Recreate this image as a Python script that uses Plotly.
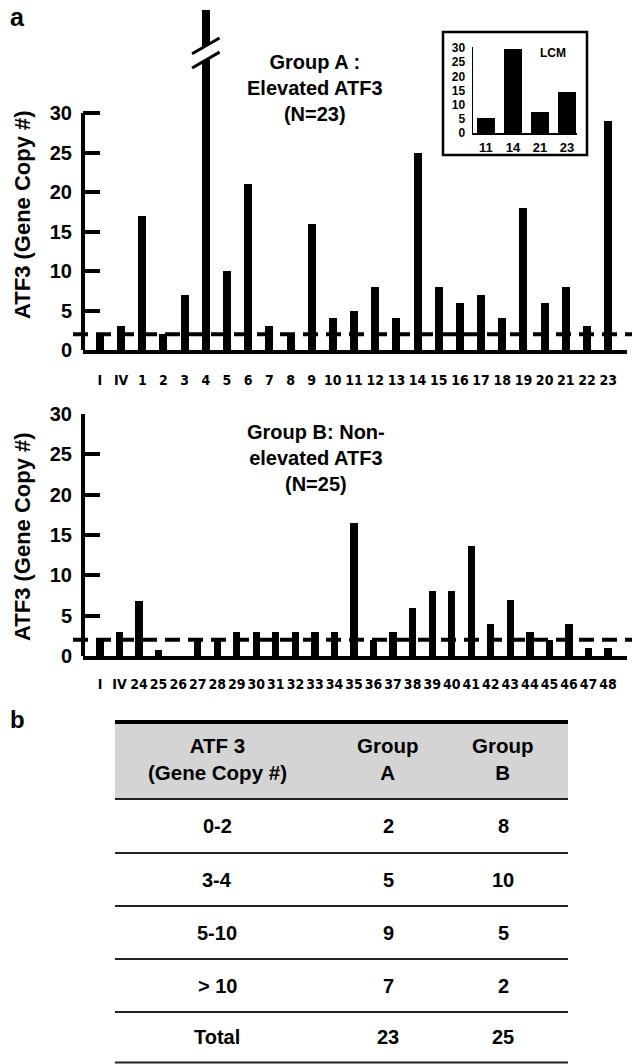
import plotly.graph_objects as go

W, H = 632, 1064

# ---------------- data ----------------
group_a_labels = ["I", "IV"] + [str(i) for i in range(1, 24)]
group_a_values = [2, 3, 17, 2, 7, 43, 10, 21, 3, 2, 16, 4, 5, 8, 4, 25, 8, 6, 7, 4, 18, 6, 8, 3, 29]

group_b_labels = ["I", "IV"] + [str(i) for i in range(24, 49)]
group_b_values = [2, 3, 6.8, 0.7, 0, 2, 2, 3, 3, 3, 3, 3, 3, 16.5, 2, 3, 6, 8, 8, 13.6, 4, 7, 3, 2, 4, 1, 1]

lcm_labels = ["11", "14", "21", "23"]
lcm_values = [5.2, 29.5, 7.3, 14.3]

threshold = 2
y_ticks = [0, 5, 10, 15, 20, 25, 30]
inset_ticks = [0, 5, 10, 15, 20, 25, 30]

table_header = ["ATF 3<br>(Gene Copy #)", "Group<br>A", "Group<br>B"]
table_rows = ["0-2", "3-4", "5-10", "> 10", "Total"]
table_group_a = [2, 5, 9, 7, 23]
table_group_b = [8, 10, 5, 2, 25]

# --------------- helpers ---------------
def fx(p):
    return p / W

def fy(p):
    return 1 - p / H

FONT = "Liberation Sans, Arial, Helvetica, sans-serif"
NARROW = "Liberation Sans Narrow, DejaVu Sans Condensed, Liberation Sans, Arial, sans-serif"

fig = go.Figure()

xa = list(range(len(group_a_labels)))
xb = list(range(len(group_b_labels)))
xl = list(range(len(lcm_labels)))

fig.add_trace(go.Bar(x=xa, y=group_a_values, width=0.38, marker=dict(color="black", line=dict(width=0)),
                     xaxis="x", yaxis="y", showlegend=False, hoverinfo="skip"))
fig.add_trace(go.Bar(x=xb, y=group_b_values, width=0.37, marker=dict(color="black", line=dict(width=0)),
                     xaxis="x2", yaxis="y2", showlegend=False, hoverinfo="skip"))
fig.add_trace(go.Bar(x=xl, y=lcm_values, width=0.67, marker=dict(color="black", line=dict(width=0)),
                     xaxis="x3", yaxis="y3", showlegend=False, hoverinfo="skip"))

top_y0, top_y1 = 350, 9
bot_y0, bot_y1 = 656, 414
top_max = 30 * (top_y0 - top_y1) / (top_y0 - 113)

xaxis_common = dict(showgrid=False, zeroline=False, showline=True, linewidth=4, linecolor="black",
                    ticks="", automargin=False, tickangle=0)
yaxis_common = dict(showgrid=False, zeroline=False, showline=False, ticks="inside", ticklen=17,
                    tickwidth=4, tickcolor="black", tickvals=y_ticks, automargin=False,
                    tickfont=dict(family=FONT, size=20, color="black", weight="bold"),
                    ticklabelstandoff=10)

fig.update_layout(
    width=W, height=H, autosize=False,
    margin=dict(l=0, r=0, t=0, b=0),
    paper_bgcolor="white", plot_bgcolor="white",
    bargap=0,
    xaxis=dict(**xaxis_common, domain=[fx(83), fx(627)], range=[-0.80, 24.89], anchor="y",
               tickvals=xa, ticktext=group_a_labels, ticklabelstandoff=14,
               tickfont=dict(family=NARROW, size=14, color="black", weight="bold")),
    yaxis=dict(**yaxis_common, domain=[fy(top_y0), fy(top_y1)], range=[0, top_max], anchor="x"),
    xaxis2=dict(**xaxis_common, domain=[fx(83), fx(627)], range=[-0.87, 26.97], anchor="y2",
                tickvals=xb, ticktext=group_b_labels, ticklabelstandoff=12,
                tickfont=dict(family=NARROW, size=14, color="black", weight="bold")),
    yaxis2=dict(**yaxis_common, domain=[fy(bot_y0), fy(bot_y1)], range=[0, 30], anchor="x2"),
    xaxis3=dict(showgrid=False, zeroline=False, showline=True, linewidth=1.5, linecolor="black",
                ticks="", automargin=False, domain=[fx(473), fx(577)], range=[-0.48, 3.37], anchor="y3",
                tickvals=xl, ticktext=lcm_labels, ticklabelstandoff=2, tickangle=0,
                tickfont=dict(family=FONT, size=13, color="black", weight="bold")),
    yaxis3=dict(showgrid=False, zeroline=False, showline=True, linewidth=1.5, linecolor="black",
                ticks="", automargin=False, domain=[fy(133), fy(46.6)], range=[0, 30.5], anchor="x3",
                tickvals=inset_ticks, ticklabelstandoff=4,
                tickfont=dict(family=FONT, size=12, color="black", weight="bold")),
)

shapes = []
# y axis lines (0..30 only)
shapes.append(dict(type="line", xref="x domain", yref="y", x0=0, x1=0, y0=0, y1=30,
                   line=dict(color="black", width=4)))
shapes.append(dict(type="line", xref="x2 domain", yref="y2", x0=0, x1=0, y0=0, y1=30,
                   line=dict(color="black", width=4)))
# threshold dashed lines
shapes.append(dict(type="line", xref="paper", yref="y", x0=fx(73), x1=1, y0=threshold, y1=threshold,
                   line=dict(color="black", width=4, dash="15px,8px")))
shapes.append(dict(type="line", xref="paper", yref="y2", x0=fx(73), x1=1, y0=threshold, y1=threshold,
                   line=dict(color="black", width=4, dash="15px,8px")))
# axis break on tallest bar
bi = group_a_values.index(max(group_a_values))
d = 0.65
lo_l, lo_r, up_l, up_r = 35.7, 37.7, 37.5, 39.5
shapes.append(dict(type="path", xref="x", yref="y",
                   path=f"M {bi-d},{lo_l} L {bi+d},{lo_r} L {bi+d},{up_r} L {bi-d},{up_l} Z",
                   fillcolor="white", line=dict(width=0)))
shapes.append(dict(type="line", xref="x", yref="y", x0=bi - d, x1=bi + d, y0=lo_l, y1=lo_r,
                   line=dict(color="black", width=3)))
shapes.append(dict(type="line", xref="x", yref="y", x0=bi - d, x1=bi + d, y0=up_l, y1=up_r,
                   line=dict(color="black", width=3)))
# inset frame
shapes.append(dict(type="rect", xref="paper", yref="paper", x0=fx(443), x1=fx(587), y0=fy(155), y1=fy(32),
                   line=dict(color="black", width=2.5), fillcolor="rgba(0,0,0,0)"))

# table
tl, tr = 115, 568
shapes.append(dict(type="rect", xref="paper", yref="paper", x0=fx(tl), x1=fx(tr), y0=fy(799), y1=fy(721),
                   fillcolor="#d4d4d4", line=dict(width=0), layer="below"))
shapes.append(dict(type="line", xref="paper", yref="paper", x0=fx(tl), x1=fx(tr), y0=fy(722), y1=fy(722),
                   line=dict(color="black", width=4)))
row_lines = [799, 853, 906, 959, 1012, 1062.5]
for yl in row_lines:
    shapes.append(dict(type="line", xref="paper", yref="paper", x0=fx(tl), x1=fx(tr), y0=fy(yl), y1=fy(yl),
                       line=dict(color="#222222", width=2)))

annotations = []

def ann(text, x, y, size, family=FONT, **kw):
    d_ = dict(text=text, x=fx(x), y=fy(y), xref="paper", yref="paper", showarrow=False,
              xanchor="center", yanchor="middle",
              font=dict(family=family, size=size, color="black", weight="bold"))
    d_.update(kw)
    annotations.append(d_)

ann("a", 17, 17, 25)
ann("b", 17, 719, 24)
ann("ATF3 (Gene Copy #)", 22, 215, 22, textangle=-90)
ann("ATF3 (Gene Copy #)", 22, 537, 22, textangle=-90)
ann("Group A :<br>Elevated ATF3<br>(N=23)", 315, 88, 20)
ann("Group B: Non-<br>elevated ATF3<br>(N=25)", 316, 458, 20)
ann("LCM", 553, 53, 12)

col_x = [217, 388, 503]
for cx, t in zip(col_x, table_header):
    ann(t, cx, 759, 20.5)
row_centers = [826, 879.5, 932.5, 985.5, 1037]
for yc, r, a, b in zip(row_centers, table_rows, table_group_a, table_group_b):
    ann(r, col_x[0], yc, 20)
    ann(str(a), col_x[1], yc, 20)
    ann(str(b), col_x[2], yc, 20)

fig.update_layout(shapes=shapes, annotations=annotations)
fig.write_html("out.html", config={"displayModeBar": False, "staticPlot": True},
               post_script="document.body.style.margin='0';document.body.style.overflow='hidden';")
